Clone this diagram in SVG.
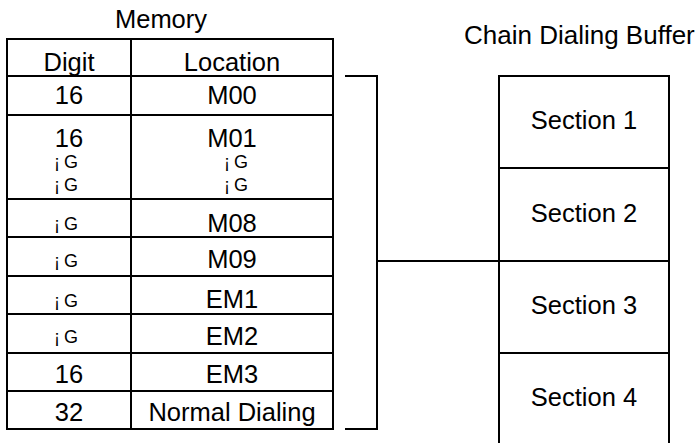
<svg xmlns="http://www.w3.org/2000/svg" width="696" height="443" viewBox="0 0 696 443">
<style>
.t{font-family:"Liberation Sans",Arial,sans-serif;font-size:25.5px;fill:#000;text-anchor:middle}
.s{font-family:"Liberation Sans",Arial,sans-serif;font-size:18px;fill:#000;letter-spacing:4px}
.ln{stroke:#000;stroke-width:2;fill:none}
</style>
<rect width="696" height="443" fill="#fff"/>
<g id="memory">
<text class="t" x="161" y="28">Memory</text>
<rect class="ln" x="7" y="39" width="326" height="390"/>
<line class="ln" x1="131" y1="39" x2="131" y2="429"/>
<path class="ln" d="M7 76H333M7 115H333M7 199H333M7 237H333M7 276H333M7 314H333M7 353H333M7 391H333"/>
<text class="t" x="69" y="71">Digit</text>
<text class="t" x="232" y="71">Location</text>
<text class="t" x="69" y="104">16</text>
<text class="t" x="232" y="104">M00</text>
<text class="t" x="69" y="147">16</text>
<text class="t" x="232" y="147">M01</text>
<text class="s" x="54" y="168">¡G</text>
<text class="s" x="224" y="168">¡G</text>
<text class="s" x="54" y="191">¡G</text>
<text class="s" x="224" y="191">¡G</text>
<text class="s" x="54" y="230">¡G</text>
<text class="t" x="232" y="232">M08</text>
<text class="s" x="54" y="267">¡G</text>
<text class="t" x="232" y="268">M09</text>
<text class="s" x="54" y="307">¡G</text>
<text class="t" x="232" y="308">EM1</text>
<text class="s" x="54" y="343">¡G</text>
<text class="t" x="232" y="345">EM2</text>
<text class="t" x="69" y="383">16</text>
<text class="t" x="232" y="383">EM3</text>
<text class="t" x="69" y="421">32</text>
<text class="t" x="232" y="421">Normal Dialing</text>
</g>
<g id="connectors">
<path class="ln" d="M345 76H377V429H345"/>
<line class="ln" x1="377" y1="261" x2="499" y2="261"/>
</g>
<g id="buffer">
<text class="t" x="464" y="44" style="text-anchor:start;font-size:26px">Chain Dialing Buffer</text>
<path class="ln" d="M499 450V76H669V450"/>
<path class="ln" d="M499 168H669M499 261H669M499 353H669"/>
<text class="t" x="584" y="129">Section 1</text>
<text class="t" x="584" y="222">Section 2</text>
<text class="t" x="584" y="314">Section 3</text>
<text class="t" x="584" y="406">Section 4</text>
</g>
</svg>
